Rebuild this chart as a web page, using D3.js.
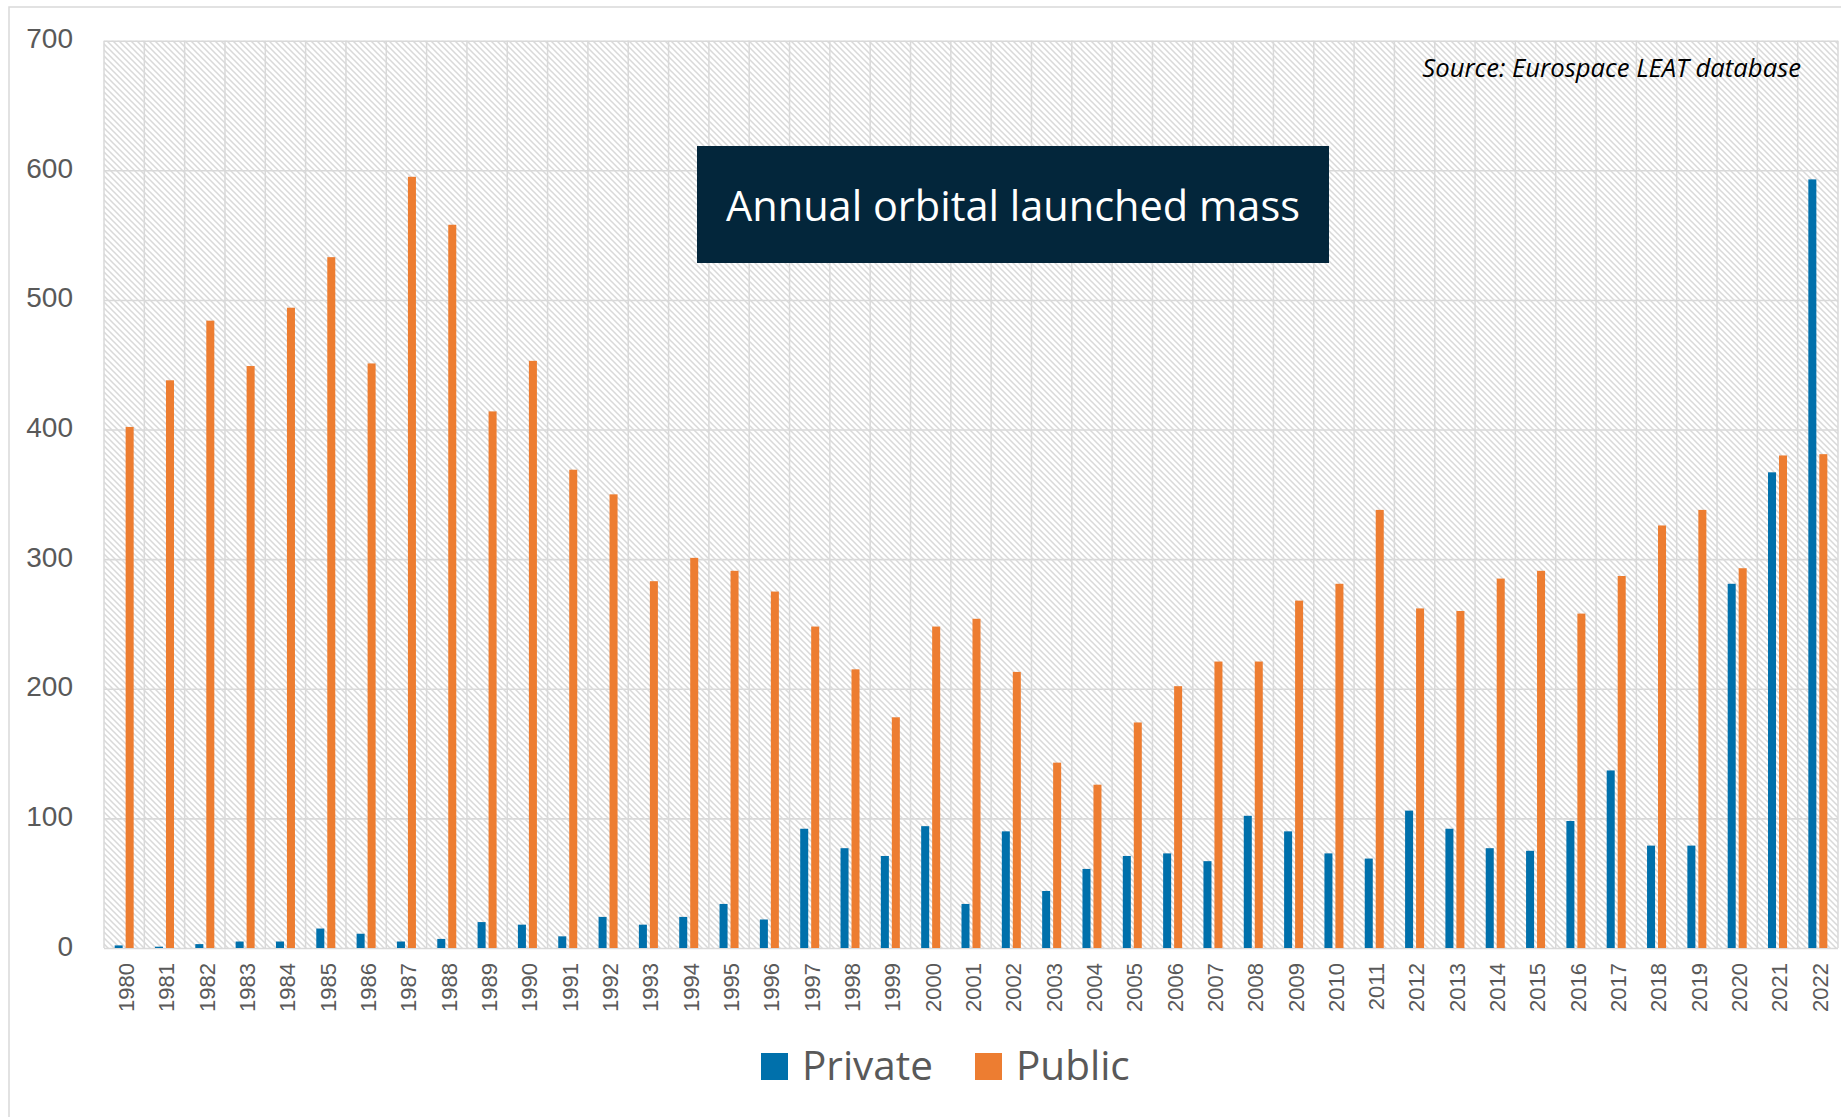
<!DOCTYPE html>
<html>
<head>
<meta charset="utf-8">
<script src="https://cdn.jsdelivr.net/npm/d3@7"></script>
<style>
  html, body { margin: 0; padding: 0; background: #fff; }
  svg { display: block; }
</style>
</head>
<body>
<svg id="chart" width="1841" height="1117"></svg>
<script>
// Launch years (categories)
const years = ["1980","1981","1982","1983","1984","1985","1986","1987","1988","1989",
  "1990","1991","1992","1993","1994","1995","1996","1997","1998","1999",
  "2000","2001","2002","2003","2004","2005","2006","2007","2008","2009",
  "2010","2011","2012","2013","2014","2015","2016","2017","2018","2019",
  "2020","2021","2022"];

// Mass launched to orbit each year, by customer type
const privateMass = [2,1,3,5,5,15,11,5,7,20,
  18,9,24,18,24,34,22,92,77,71,
  94,34,90,44,61,71,73,67,102,90,
  73,69,106,92,77,75,98,137,79,79,
  281,367,593];
const publicMass = [402,438,484,449,494,533,451,595,558,414,
  453,369,350,283,301,291,275,248,215,178,
  248,254,213,143,126,174,202,221,221,268,
  281,338,262,260,285,291,258,287,326,338,
  293,380,381];

const yTicks = [0,100,200,300,400,500,600,700];
const seriesNames = ["Private","Public"];
const seriesColors = ["#0070AB","#ED7D31"];
const seriesValues = [privateMass, publicMass];
const titleText = "Annual orbital launched mass";
const sourceText = "Source: Eurospace LEAT database";

const svg = d3.select("#chart");
const W = 1841, H = 1117;
const plot = { left: 104, right: 1838, top: 40.7, bottom: 948 };

// Hatched plot background
const defs = svg.append("defs");
const pat = defs.append("pattern")
  .attr("id", "hatch")
  .attr("patternUnits", "userSpaceOnUse")
  .attr("width", 6).attr("height", 6);
pat.append("rect").attr("width", 6).attr("height", 6).attr("fill", "#ffffff");
pat.append("path")
  .attr("d", "M-1,-1 L7,7 M-1,5 L1,7 M5,-1 L7,1")
  .attr("stroke", "#d9d9d9")
  .attr("stroke-width", 1.5);

// Outer chart frame
svg.append("rect")
  .attr("x", 9).attr("y", 7)
  .attr("width", W + 50).attr("height", H + 50)
  .attr("fill", "#ffffff")
  .attr("stroke", "#d9d9d9").attr("stroke-width", 1.5);

const x0 = d3.scaleBand().domain(years).range([plot.left, plot.right]).padding(0);
const bw = x0.bandwidth();
const x1 = d3.scaleBand().domain(seriesNames)
  .range([bw / 2 - 9.5, bw / 2 + 9.5])
  .paddingInner(0.27).paddingOuter(0);
const y = d3.scaleLinear().domain([0, 700]).range([plot.bottom, plot.top]);
const color = d3.scaleOrdinal().domain(seriesNames).range(seriesColors);

svg.append("rect")
  .attr("x", plot.left).attr("y", plot.top)
  .attr("width", plot.right - plot.left)
  .attr("height", plot.bottom - plot.top)
  .attr("fill", "url(#hatch)");

// Horizontal gridlines
svg.append("g")
  .attr("transform", `translate(${plot.left},0)`)
  .call(d3.axisLeft(y).tickValues(yTicks).tickSize(-(plot.right - plot.left)).tickFormat(""))
  .call(g => g.select(".domain").remove())
  .call(g => g.selectAll("line").attr("stroke", "#d9d9d9").attr("stroke-width", 1.6));

// Vertical gridlines on category boundaries
const bounds = years.map(d => x0(d)).concat([plot.right]);
svg.append("g").selectAll("line")
  .data(bounds)
  .join("line")
  .attr("x1", d => d).attr("x2", d => d)
  .attr("y1", plot.top).attr("y2", plot.bottom)
  .attr("stroke", "#d9d9d9").attr("stroke-width", 1.5);

// Y axis labels
svg.append("g")
  .attr("transform", `translate(${plot.left},0)`)
  .call(d3.axisLeft(y).tickValues(yTicks).tickSize(0).tickPadding(31))
  .call(g => g.select(".domain").remove())
  .call(g => g.selectAll("text")
    .attr("font-family", "'Liberation Sans', Arial, sans-serif")
    .attr("font-size", 28)
    .attr("fill", "#595959")
    .attr("dy", "0.25em"));

// X axis labels, rotated
svg.append("g")
  .attr("transform", `translate(0,${plot.bottom})`)
  .call(d3.axisBottom(x0).tickSize(0))
  .call(g => g.select(".domain").remove())
  .call(g => g.selectAll("text")
    .attr("font-family", "'Liberation Sans', Arial, sans-serif")
    .attr("font-size", 22)
    .attr("fill", "#595959")
    .attr("transform", "rotate(-90)")
    .attr("text-anchor", "end")
    .attr("x", -15).attr("y", 0)
    .attr("dy", "0.45em"));

// Bars
const groups = svg.append("g").selectAll("g")
  .data(years.map((yr, i) => ({ yr, vals: seriesNames.map((s, k) => ({ s, v: seriesValues[k][i] })) })))
  .join("g")
  .attr("transform", d => `translate(${x0(d.yr)},0)`);

groups.selectAll("rect")
  .data(d => d.vals)
  .join("rect")
  .attr("x", d => x1(d.s))
  .attr("width", x1.bandwidth())
  .attr("y", d => y(d.v))
  .attr("height", d => y(0) - y(d.v))
  .attr("fill", d => color(d.s));

function fitWidth(sel, target) {
  const fs = +sel.attr("font-size");
  const w = sel.node().getComputedTextLength();
  sel.attr("font-size", fs * target / w);
}

// Title box
svg.append("rect")
  .attr("x", 697).attr("y", 146)
  .attr("width", 632).attr("height", 117)
  .attr("fill", "#03263B");
const title = svg.append("text")
  .attr("x", 1013).attr("y", 220.5)
  .attr("text-anchor", "middle")
  .attr("font-family", "'Open Sans', sans-serif")
  .attr("font-size", 42)
  .attr("fill", "#ffffff")
  .text(titleText);
fitWidth(title, 574);

// Source note
const source = svg.append("text")
  .attr("x", 1801).attr("y", 76.5)
  .attr("text-anchor", "end")
  .attr("font-family", "'Open Sans', sans-serif")
  .attr("font-style", "italic")
  .attr("font-size", 25)
  .attr("fill", "#000000")
  .text(sourceText);
fitWidth(source, 379);

// Legend
const legendX = [761, 975];
const legend = svg.append("g").selectAll("g")
  .data(seriesNames)
  .join("g")
  .attr("transform", (d, i) => `translate(${legendX[i]},1053)`);
legend.append("rect")
  .attr("width", 27).attr("height", 27)
  .attr("fill", d => color(d));
const legendText = legend.append("text")
  .attr("x", 41).attr("y", 26.5)
  .attr("font-family", "'Open Sans', sans-serif")
  .attr("font-size", 40)
  .attr("fill", "#595959")
  .text(d => d);
{
  const first = d3.select(legendText.nodes()[0]);
  fitWidth(first, 131);
  legendText.attr("font-size", first.attr("font-size"));
}
</script>
</body>
</html>
